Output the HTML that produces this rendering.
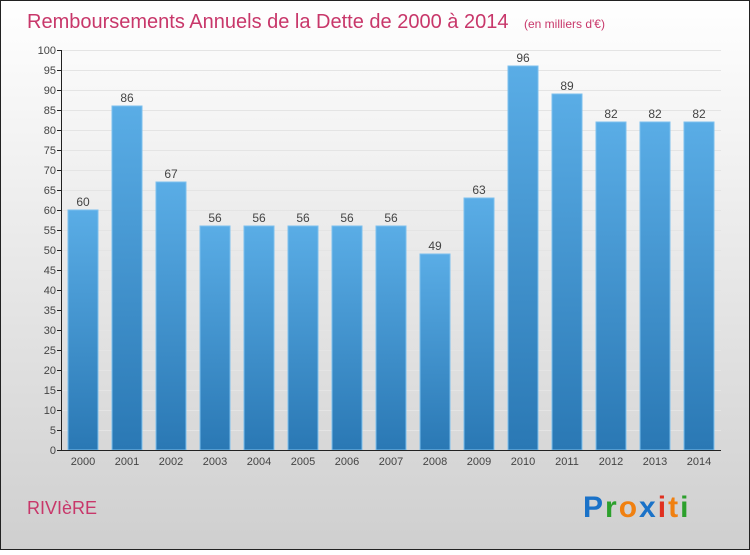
<!DOCTYPE html>
<html><head><meta charset="utf-8"><style>
body{margin:0;}
#c{width:750px;height:550px;position:relative;}
</style></head><body>
<div id="c">
<svg id="s" width="750" height="550" xmlns="http://www.w3.org/2000/svg" font-family="Liberation Sans, sans-serif">
<defs>
<linearGradient id="bg" x1="0" y1="0" x2="0" y2="1"><stop offset="0" stop-color="#ffffff"/><stop offset="1" stop-color="#cfcfcf"/></linearGradient>
<linearGradient id="bar" x1="0" y1="0" x2="0" y2="1"><stop offset="0" stop-color="#5aade6"/><stop offset="1" stop-color="#2a78b4"/></linearGradient>
</defs>
<rect x="0.5" y="0.5" width="749" height="549" fill="url(#bg)" stroke="#222" stroke-width="1"/>
<text x="27" y="28" font-size="20" fill="#c8376a">Remboursements Annuels de la Dette de 2000 à 2014 <tspan font-size="12" dx="10">(en milliers d'€)</tspan></text>
<text x="27" y="514" font-size="18" fill="#c8376a">RIVIèRE</text>
<g font-size="30" font-weight="bold" letter-spacing="2">
<text x="583" y="517" fill="#1a72c8">P<tspan fill="#2ca02c">r</tspan><tspan fill="#f08010">o</tspan><tspan fill="#1a72c8">x</tspan><tspan fill="#e03020">i</tspan><tspan fill="#f08010">t</tspan><tspan fill="#2ca02c">i</tspan></text>
</g>
<g id="plot"></g>
</svg>
</div>
<script>
const categories=["2000","2001","2002","2003","2004","2005","2006","2007","2008","2009","2010","2011","2012","2013","2014"];
const values=[60,86,67,56,56,56,56,56,49,63,96,89,82,82,82];
const yTicks=[0,5,10,15,20,25,30,35,40,45,50,55,60,65,70,75,80,85,90,95,100];
const NS="http://www.w3.org/2000/svg";
const g=document.getElementById('plot');
const x0=61,x1=721,y0=450,yTop=50,band=(x1-x0)/categories.length,bw=30;
const y=v=>y0-(v/100)*(y0-yTop);
const xc=i=>x0+band*(i+0.5);
function mk(t,a,p){const e=document.createElementNS(NS,t);for(const k in a)e.setAttribute(k,a[k]);(p||g).appendChild(e);return e;}
yTicks.forEach(v=>{
 const l=mk('line',{x1:x0+0.5,x2:x1,y1:y(v)+0.5,y2:y(v)+0.5,stroke:'#e4e4e4'});
 
 
});
values.forEach((v,i)=>{
 const r=mk('rect',{x:xc(i)-bw/2,y:y(v),width:bw,height:y0-y(v),fill:'url(#bar)',stroke:'#7cc0ee','stroke-width':1});
 
 
 const t=mk('text',{x:xc(i),y:y(v)-4,'text-anchor':'middle','font-size':12,fill:'#444'});
 t.textContent=v;
 
 
 const xl=mk('text',{x:xc(i),y:y0+15,'text-anchor':'middle','font-size':11,fill:'#444'});
 xl.textContent=categories[i];
 
 
});
yTicks.forEach(v=>{
 const tk=mk('line',{x1:x0-4,x2:x0,y1:y(v)+0.5,y2:y(v)+0.5,stroke:'#222'});
 
 
 const t=mk('text',{x:x0-5,y:y(v)+4,'text-anchor':'end','font-size':11,fill:'#444'});
 t.textContent=v;
 
 
});
const ya=mk('line',{x1:x0+0.5,x2:x0+0.5,y1:yTop,y2:y0,stroke:'#222'});


const xa=mk('line',{x1:x0,x2:x1,y1:y0+0.5,y2:y0+0.5,stroke:'#222'});


</script>
</body></html>
